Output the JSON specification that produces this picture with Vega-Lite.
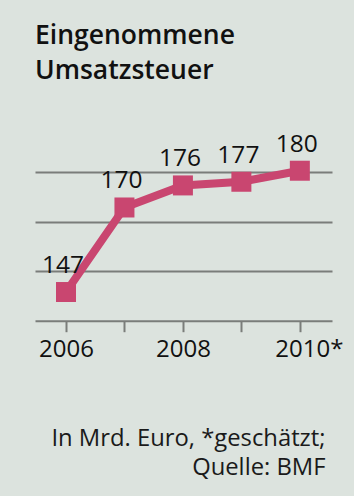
{
  "$schema": "https://vega.github.io/schema/vega-lite/v6.json",
  "width": 297,
  "height": 205.7,
  "autosize": "none",
  "padding": {"left": 35, "top": 115, "right": 22, "bottom": 175.3},
  "background": "#dce3de",
  "config": {"view": {"stroke": null}, "font": "Open Sans"},
  "title": {
    "text": ["Eingenommene", "Umsatzsteuer"],
    "anchor": "start",
    "frame": "group",
    "orient": "top",
    "baseline": "alphabetic",
    "offset": 10,
    "lineHeight": 35,
    "font": "Open Sans",
    "fontSize": 26.5,
    "fontWeight": 600,
    "color": "#111111"
  },
  "data": {
    "values": [
      {"year": 2006, "value": 147},
      {"year": 2007, "value": 170},
      {"year": 2008, "value": 176},
      {"year": 2009, "value": 177},
      {"year": 2010, "value": 180}
    ]
  },
  "encoding": {
    "x": {
      "field": "year",
      "type": "quantitative",
      "scale": {"domain": [2005.47, 2010.55], "nice": false, "zero": false},
      "axis": {
        "values": [2006, 2007, 2008, 2009, 2010],
        "format": "d",
        "labelExpr": "datum.value == 2010 ? '2010*' : (datum.value % 2 == 0 ? datum.label : '')",
        "labelOffset": {"condition": {"test": "datum.value == 2010", "value": 9}, "value": 0},
        "labelFont": "Open Sans",
        "labelFontSize": 24,
        "labelColor": "#111111",
        "labelBaseline": "alphabetic",
        "labelPadding": 25,
        "labelFlush": false,
        "labelOverlap": false,
        "grid": false,
        "domainColor": "#7a7d7a",
        "domainWidth": 2,
        "tickColor": "#7a7d7a",
        "tickWidth": 2,
        "tickSize": 11,
        "title": ["In Mrd. Euro, *geschätzt;", "Quelle: BMF"],
        "titleX": 290,
        "titleY": 124.3,
        "titleAlign": "right",
        "titleAnchor": "end",
        "titleBaseline": "alphabetic",
        "titleLineHeight": 29,
        "titleFont": "Open Sans",
        "titleFontSize": 23.8,
        "titleFontWeight": "normal",
        "titleColor": "#1a1a1a"
      }
    },
    "y": {
      "field": "value",
      "type": "quantitative",
      "scale": {"domain": [139.2, 195.16], "nice": false, "zero": false},
      "axis": {
        "values": [152.65, 166.1, 179.55],
        "labels": false,
        "ticks": false,
        "domain": false,
        "title": null,
        "grid": true,
        "gridColor": "#7a7d7a",
        "gridWidth": 2
      }
    }
  },
  "layer": [
    {"mark": {"type": "line", "color": "#c94670", "strokeWidth": 8}},
    {"mark": {"type": "point", "shape": "square", "filled": true, "size": 400, "color": "#c94670", "opacity": 1}},
    {
      "mark": {"type": "text", "dy": -19, "dx": -3, "baseline": "alphabetic", "font": "Open Sans", "fontSize": 24.5, "fontWeight": 500, "color": "#111111"},
      "encoding": {"text": {"field": "value", "type": "quantitative"}}
    }
  ]
}
